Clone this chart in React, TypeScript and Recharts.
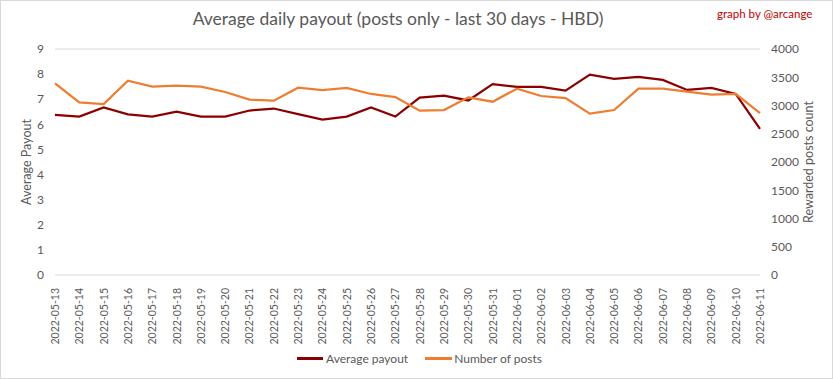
import React from 'react';
import { LineChart, Line, XAxis, YAxis, CartesianGrid, Legend } from 'recharts';

const dates = [
    '2022-05-13', '2022-05-14', '2022-05-15', '2022-05-16', '2022-05-17', '2022-05-18',
    '2022-05-19', '2022-05-20', '2022-05-21', '2022-05-22', '2022-05-23', '2022-05-24',
    '2022-05-25', '2022-05-26', '2022-05-27', '2022-05-28', '2022-05-29', '2022-05-30',
    '2022-05-31', '2022-06-01', '2022-06-02', '2022-06-03', '2022-06-04', '2022-06-05',
    '2022-06-06', '2022-06-07', '2022-06-08', '2022-06-09', '2022-06-10', '2022-06-11',
];

const avgPayout = [
    6.38, 6.31, 6.67, 6.4, 6.31, 6.51, 6.31, 6.31, 6.55, 6.63,
    6.41, 6.19, 6.31, 6.67, 6.31, 7.06, 7.14, 6.95, 7.6, 7.49,
    7.49, 7.34, 7.98, 7.81, 7.89, 7.77, 7.37, 7.45, 7.21, 5.82,
];

const postCount = [
    3392, 3056, 3026, 3439, 3333, 3351, 3333, 3239, 3103, 3085,
    3315, 3274, 3310, 3204, 3150, 2908, 2920, 3144, 3067, 3298,
    3168, 3132, 2855, 2920, 3298, 3298, 3245, 3191, 3204, 2867,
];

const leftTicks = [0, 1, 2, 3, 4, 5, 6, 7, 8, 9];
const rightTicks = [0, 500, 1000, 1500, 2000, 2500, 3000, 3500, 4000];

const DARK_RED = '#8b0000';
const ORANGE = '#ed7d31';
const GREY = '#595959';
const FONT = 'Lato, "Open Sans", sans-serif';

const data = dates.map((d, i) => ({ date: d, payout: avgPayout[i], posts: postCount[i] }));

const DateTick = ({ x, y, payload }: any) => (
    <text
        transform={`translate(${x},${y}) rotate(-90)`}
        textAnchor="end"
        dominantBaseline="central"
        fontSize={10.5}
        fill={GREY}
        fontFamily={FONT}
    >
        {payload.value}
    </text>
);

const LegendContent = () => (
    <div style={{ display: 'flex', justifyContent: 'center', alignItems: 'center', height: 26, fontFamily: FONT, fontSize: 12, color: GREY, paddingLeft: 6 }}>
        <span style={{ display: 'inline-block', width: 26, height: 3, background: DARK_RED, marginRight: 3 }} />
        <span style={{ marginRight: 17 }}>Average payout</span>
        <span style={{ display: 'inline-block', width: 27, height: 3, background: ORANGE, marginRight: 2 }} />
        <span>Number of posts</span>
    </div>
);

const App = () => (
    <div style={{ position: 'absolute', left: 0, top: 0, width: 833, height: 379, background: '#fff' }}>
        <div style={{ position: 'absolute', left: 0, top: 0, width: 831, height: 377, border: '1px solid #d9d9d9' }} />
        <div style={{ position: 'absolute', left: 0, width: 796, top: 8, textAlign: 'center', fontFamily: FONT, fontSize: 17.5, color: GREY }}>
            Average daily payout (posts only - last 30 days - HBD)
        </div>
        <div style={{ position: 'absolute', left: 717, top: 7, fontFamily: FONT, fontSize: 11.5, color: '#c00000' }}>
            graph by @arcange
        </div>
        <LineChart width={833} height={379} data={data} margin={{ top: 49, right: 0, bottom: 8, left: 0 }}>
            <CartesianGrid vertical={false} stroke="#d9d9d9" />
            <XAxis dataKey="date" interval={0} axisLine={false} tickLine={false} height={70} tick={<DateTick />} tickMargin={7} />
            <YAxis
                yAxisId="left"
                width={55}
                domain={[0, 9]}
                ticks={leftTicks}
                axisLine={false}
                tickLine={false}
                tickMargin={5}
                tick={{ fontSize: 12, fill: GREY, fontFamily: FONT }}
                label={{ value: 'Average Payout', angle: -90, position: 'insideLeft', offset: 27, style: { fontSize: 12.5, fill: GREY, fontFamily: FONT, textAnchor: 'middle' } }}
            />
            <YAxis
                yAxisId="right"
                orientation="right"
                width={73}
                domain={[0, 4000]}
                ticks={rightTicks}
                axisLine={false}
                tickLine={false}
                tickMargin={5}
                tick={{ fontSize: 12, fill: GREY, fontFamily: FONT }}
                label={{ value: 'Rewarded posts count', angle: -90, position: 'insideRight', offset: 24, style: { fontSize: 12.5, fill: GREY, fontFamily: FONT, textAnchor: 'middle' } }}
            />
            <Legend verticalAlign="bottom" height={26} content={<LegendContent />} />
            <Line yAxisId="left" dataKey="payout" stroke={DARK_RED} strokeWidth={2.25} dot={false} isAnimationActive={false} />
            <Line yAxisId="right" dataKey="posts" stroke={ORANGE} strokeWidth={2.25} dot={false} isAnimationActive={false} />
        </LineChart>
    </div>
);

export default App;
